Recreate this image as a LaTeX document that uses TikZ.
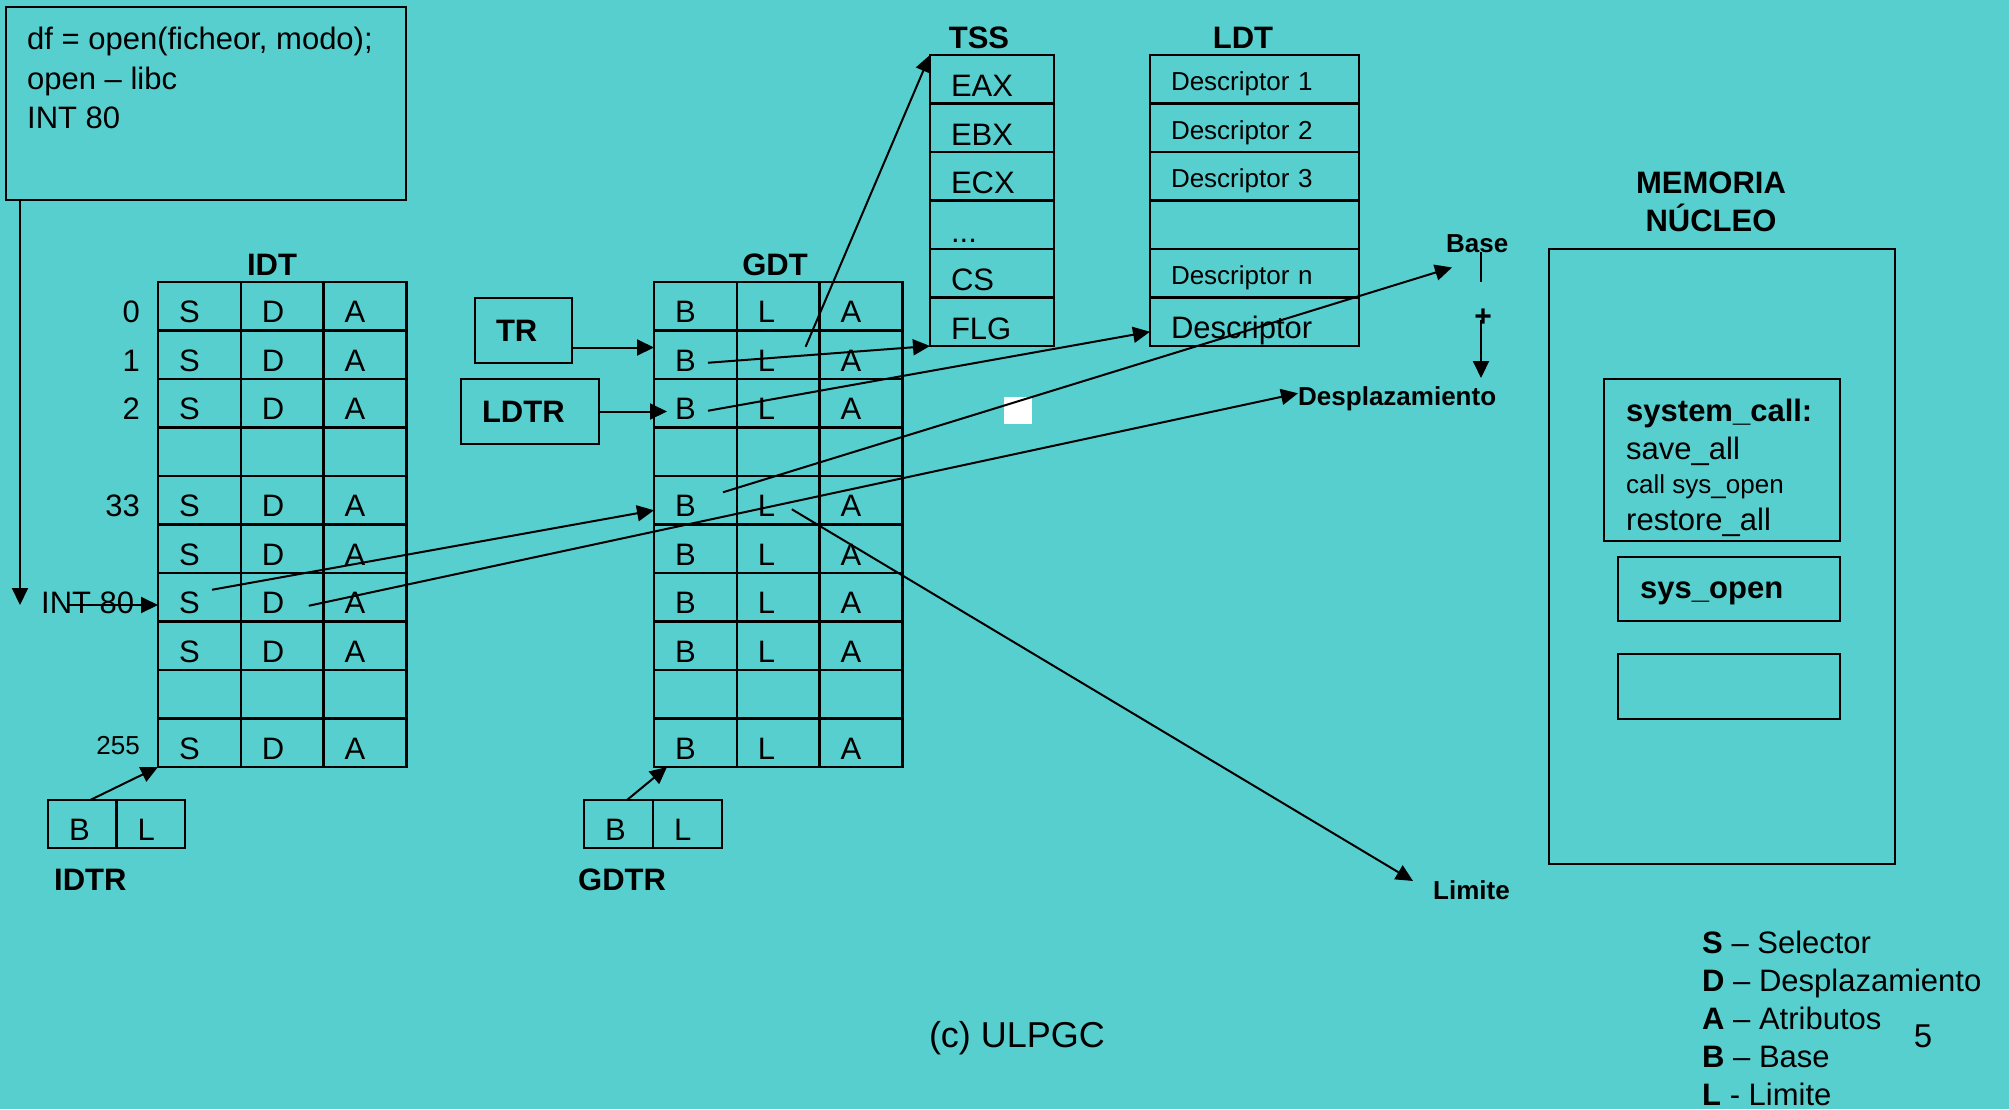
\documentclass[tikz,border=0pt]{standalone}
\usepackage{fontspec}
\setmainfont{Liberation Sans}
\usetikzlibrary{arrows.meta, calc}
\definecolor{slide}{RGB}{87,207,207}
\newcommand\tdots{...}

\tikzset{
  cell/.style={draw, line width=2.4pt, outer sep=0pt, inner xsep=21pt, inner ysep=0pt,
    align=left, text height=40.5pt, text depth=8pt, anchor=north west,
    font=\fontsize{31}{31}\selectfont},
  box/.style={draw, line width=2.4pt, outer sep=0pt, inner sep=0pt, anchor=north west},
  txt/.style={inner sep=0pt, font=\fontsize{31}{31}\selectfont},
  sml/.style={inner sep=0pt, font=\fontsize{26}{26}\selectfont},
  hdr/.style={inner sep=0pt, font=\fontsize{31}{31}\selectfont\bfseries},
  tag/.style={inner sep=0pt, font=\fontsize{26}{26}\selectfont\bfseries},
  link/.style={line width=2pt},
  arr/.style={line width=2pt, -{Triangle[length=17pt,width=16pt]}},
}

\begin{document}
\begin{tikzpicture}[x=1pt, y=-1pt]
  % Background
  \fill[slide] (0,0) rectangle (2009,1109);
  \useasboundingbox (0,0) rectangle (2009,1109);

  % Program box
  \node[box, minimum width=400pt, minimum height=193pt] (prog) at (6,7) {};
  \node[inner sep=0pt, anchor=north west, align=left, font=\fontsize{31}{39.5}\selectfont]
    (prog-txt) at (27,27) {df = open(ficheor, modo);\\open – libc\\INT 80};

  % IDT and GDT
  \foreach \tb/\x/\ca/\cb in {idt/158/S/D, gdt/654/B/L}
    \foreach \row/\on in {0/1,1/1,2/1,3/0,4/1,5/1,6/1,7/1,8/0,9/1}
      \foreach \col/\txt in {1/\ca,2/\cb,3/A}
        \node[cell, text width=40.8pt] (\tb-\row-\col)
          at ({\x+(\col-1)*82.8}, {282+\row*48.5}) {\ifnum\on=1 \txt\fi};
  \node[hdr, anchor=base] (idt-h) at (272,275) {IDT};
  \node[hdr, anchor=base] (gdt-h) at (775,275) {GDT};

  % Row numbers of IDT
  \foreach \row/\n in {0/0,1/1,2/2,4/33}
    \node[txt, anchor=base east] (idt-n\row) at (140, {282+\row*48.5+40.5}) {\n};
  \node[sml, anchor=base east] (idt-n9) at (140,754) {255};
  \node[txt, anchor=base west] (int80) at (41,613) {INT 80};

  % TSS and LDT
  \foreach \row/\txt in {0/EAX,1/EBX,2/ECX,3/\tdots,4/CS,5/FLG}
    \node[cell, text width=82pt, text height=41.5pt, text depth=7pt] (tss-\row)
      at (930, {55+\row*48.5}) {\txt};
  \foreach \row/\txt in {0/Descriptor 1,1/Descriptor 2,2/Descriptor 3,3/{},4/Descriptor n}
    \node[cell, text width=167pt, text height=35.5pt, text depth=13pt,
      font=\fontsize{26}{26}\selectfont] (ldt-\row) at (1150, {55+\row*48.5}) {\txt};
  \node[cell, text width=167pt] (ldt-5) at (1150, {55+5*48.5}) {Descriptor};
  \node[hdr, anchor=base] (tss-h) at (979,48) {TSS};
  \node[hdr, anchor=base] (ldt-h) at (1243,48) {LDT};

  % Registers
  \node[box, text width=55pt, inner xsep=21pt, minimum height=65pt, align=left,
    font=\fontsize{31}{31}\selectfont\bfseries] (tr) at (475,298) {TR};
  \node[box, text width=96pt, inner xsep=21pt, minimum height=65pt, align=left,
    font=\fontsize{31}{31}\selectfont\bfseries] (ldtr) at (461,379) {LDTR};
  \node[cell, text width=26.5pt, text height=40pt] (idtr-b) at (48,800) {B};
  \node[cell, text width=26.5pt, text height=40pt] (idtr-l) at (idtr-b.north east) {L};
  \node[hdr, anchor=base west] (idtr-h) at (54,890) {IDTR};
  \node[cell, text width=27pt, text height=40pt] (gdtr-b) at (584,800) {B};
  \node[cell, text width=27pt, text height=40pt] (gdtr-l) at (gdtr-b.north east) {L};
  \node[hdr, anchor=base west] (gdtr-h) at (578,890) {GDTR};

  % Address parts
  \node[tag, anchor=base west] (base) at (1446,252) {Base};
  \node[inner sep=0pt, font=\fontsize{30}{30}\selectfont\bfseries] (plus) at (1483,318) {+};
  \node[tag, anchor=base west] (desp) at (1298,405) {Desplazamiento};
  \node[tag, anchor=base west] (limite) at (1433,899) {Limite};

  % Kernel memory
  \node[hdr, anchor=base] (mem-h1) at (1711,193) {MEMORIA};
  \node[hdr, anchor=base] (mem-h2) at (1711,231) {NÚCLEO};
  \node[box, minimum width=346pt, minimum height=615pt] (mem) at (1549,249) {};
  \node[box, minimum width=236pt, minimum height=162pt] (syscall) at (1604,379) {};
  \node[hdr, anchor=base west] (sc-1) at (1626,421) {system\_call:};
  \node[txt, anchor=base west] (sc-2) at (1626,459) {save\_all};
  \node[sml, anchor=base west] (sc-3) at (1626,493) {call sys\_open};
  \node[txt, anchor=base west] (sc-4) at (1626,530) {restore\_all};
  \node[box, minimum width=222pt, minimum height=64pt] (sysopen) at (1618,557) {};
  \node[hdr, anchor=base west] (sysopen-t) at (1640,598) {sys\_open};
  \node[box, minimum width=222pt, minimum height=65pt] (spare) at (1618,654) {};

  % Legend and footer
  \foreach \i/\k/\w in {0/S/– Selector, 1/D/– Desplazamiento, 2/A/– Atributos, 3/B/– Base, 4/L/- Limite}
    \node[txt, anchor=base west] (key-\i) at (1702, {953+\i*38}) {\textbf{\k} \w};
  \node[inner sep=0pt, anchor=base, font=\fontsize{36}{36}\selectfont] (footer) at (1017,1047) {(c) ULPGC};
  \node[inner sep=0pt, anchor=base, font=\fontsize{33}{33}\selectfont] (page) at (1923,1047) {5};
  \fill[white] (1004,397) rectangle (1032,424);

  % Connectors
  \coordinate (int-in) at (20,605);
  \coordinate (int-src) at (68,605);
  \draw[arr] (int-in |- prog.south) -- (int-in);
  \draw[arr] (int-src) -- (int-src -| idt-6-1.west);
  \draw[arr] ($(tr.east)+(0,17)$) -- ($(tr.east -| gdt-1-1.west)+(0,17)$);
  \draw[arr] (ldtr.east) -- ($(ldtr.east -| gdt-2-1.west)+(13,0)$);
  \draw[arr] ($(gdt-1-2.east)+(-14,-8)$) -- (tss-0.north west);
  \draw[arr] ($(gdt-1-1.west)+(54,8)$) -- (tss-5.south west);
  \draw[arr] ($(gdt-2-1.west)+(54,7.5)$) -- ($(ldt-5.west)+(0,10)$);
  \draw[arr] ($(gdt-4-1.west)+(69,-8)$) -- ($(base.south west)+(6,15)$);
  \draw[arr] ($(gdt-4-2.west)+(55,9)$) -- ($(limite.north west)+(-20,1)$);
  \draw[arr] ($(idt-6-1.west)+(54,-7.5)$) -- ($(gdt-4-1.west)+(0,10)$);
  \draw[arr] ($(idt-6-2.west)+(68,8.5)$) -- ($(desp.west)+(0,-5)$);
  \draw[arr] ($(idtr-b.north)+(8,0)$) -- (idt-9-1.south west);
  \draw[arr] ($(gdtr-b.north)+(8.5,0)$) -- ($(gdt-9-1.south west)+(13,0)$);
  \draw[link] ($(plus)+(-2,-66)$) -- ($(plus)+(-2,-36)$);
  \draw[arr] ($(plus)+(-2,2)$) -- ($(plus)+(-2,60)$);
\end{tikzpicture}
\end{document}
